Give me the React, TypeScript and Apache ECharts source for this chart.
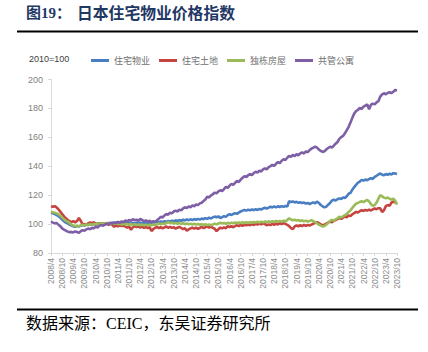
import React, { useEffect, useRef } from "react";
import * as echarts from "echarts";

// Monthly categories 2008/4 .. 2023/10
const months: string[] = [];
for (let y = 2008; y <= 2023; y++) {
  for (let m = 1; m <= 12; m++) {
    if (y === 2008 && m < 4) continue;
    if (y === 2023 && m > 10) continue;
    months.push(`${y}/${m}`);
  }
}

const seriesNames = ["住宅物业", "住宅土地", "独栋房屋", "共管公寓"];

const residential = [
  107.9, 107.4, 107.0, 106.2, 105.6, 104.4, 103.2, 102.0, 101.0,
  100.4, 99.6, 99.0, 98.4, 98.2, 98.7, 98.3, 98.9, 99.3, 99.0, 99.6, 99.3,
  99.8, 99.5, 100.1, 99.7, 100.3, 99.9, 100.4, 100.0, 100.6, 100.2, 100.8, 100.4,
  100.9, 100.5, 101.1, 100.7, 101.2, 100.8, 100.4, 100.9, 100.3, 100.8, 100.2, 100.7,
  100.3, 100.9, 100.4, 101.0, 100.5, 101.1, 100.6, 100.2, 100.8, 100.3, 100.9, 101.2,
  101.6, 101.1, 101.8, 101.3, 102.0, 101.5, 102.2, 101.7, 102.4, 101.9, 102.6, 102.1,
  102.8, 102.3, 103.0, 102.5, 103.2, 102.7, 103.3, 102.8, 103.5, 103.0, 103.6, 103.1,
  103.8, 103.4, 104.1, 103.6, 104.4, 103.9, 104.6, 105.2, 104.7, 105.4, 104.1, 104.8,
  105.5, 105.0, 106.2, 106.8, 106.3, 107.0, 107.6, 107.1, 108.0, 108.7, 109.3, 109.8,
  109.3, 110.0, 109.5, 110.2, 109.6, 110.3, 109.8, 110.5, 110.0, 110.8, 111.3, 110.7,
  111.4, 112.0, 111.5, 112.2, 111.6, 112.3, 111.8, 112.4, 111.9, 112.6, 112.1, 115.8,
  115.3, 115.7, 115.0, 115.4, 114.7, 115.1, 114.5, 114.9, 114.2, 114.6, 113.9, 114.5,
  115.0, 114.4, 115.5, 114.6, 113.2, 112.3, 111.6, 112.0, 113.4, 114.6, 116.2, 116.8,
  116.3, 117.2, 117.8, 117.3, 118.4, 118.0, 119.2, 121.0, 121.6, 123.8, 125.6, 127.2,
  128.6, 129.4, 130.5, 130.1, 130.8, 130.3, 131.2, 131.7, 131.2, 132.6, 133.4, 134.3,
  135.0, 134.2, 133.8, 134.6, 134.1, 134.9, 134.3, 135.2, 135.0, 134.6,
];

const land = [
  112.3, 112.0, 112.4, 111.6, 110.2, 108.6, 107.0, 105.4, 104.0,
  102.8, 101.9, 101.4, 102.0, 101.2, 102.1, 104.2, 102.3, 99.6, 100.1, 99.4, 100.5,
  101.2, 100.6, 101.3, 100.4, 99.8, 100.7, 99.9, 100.5, 99.6, 100.3, 99.5, 100.1,
  99.4, 98.2, 99.0, 98.5, 99.2, 98.6, 99.0, 98.2, 97.6, 98.4, 96.0, 97.8,
  98.6, 97.9, 98.4, 97.6, 98.2, 97.4, 98.0, 97.3, 97.9, 95.2, 96.6, 97.5,
  98.0, 97.2, 97.8, 97.1, 97.7, 98.3, 97.5, 98.1, 97.4, 97.9, 96.8, 97.5,
  98.1, 97.3, 96.5, 97.2, 95.4, 96.3, 97.0, 97.6, 96.9, 97.5, 96.7, 97.3,
  98.0, 97.2, 97.8, 98.4, 97.6, 98.2, 97.4, 96.8, 95.1, 96.4, 97.6, 97.0,
  97.7, 97.1, 98.6, 97.9, 98.5, 97.8, 98.7, 99.3, 98.6, 99.4, 98.8, 99.6,
  99.1, 99.8, 99.2, 100.0, 99.4, 100.2, 99.6, 100.4, 99.8, 100.6, 100.0, 99.2,
  99.8, 99.3, 100.1, 99.5, 100.3, 99.7, 100.6, 100.0, 100.7, 100.1, 99.5, 98.6,
  97.2, 96.5, 98.4, 99.1, 98.5, 99.2, 98.6, 99.4, 98.8, 99.5, 98.9, 99.6,
  100.2, 100.8, 101.4, 100.6, 99.8, 99.2, 99.6, 100.4, 101.0, 101.8, 101.2, 102.3,
  102.8, 103.4, 104.2, 103.6, 104.5, 105.3, 104.7, 106.0, 105.5, 106.8, 107.6, 108.4,
  108.0, 108.9, 109.6, 109.1, 109.8, 109.3, 110.0, 109.4, 110.2, 110.8, 110.3, 111.0,
  110.9, 108.4, 109.6, 112.4, 113.2, 112.6, 114.8, 115.6, 115.0, 114.5,
];

const detached = [
  108.6, 108.2, 107.9, 107.4, 106.8, 105.9, 104.6, 103.4, 102.3,
  101.7, 100.8, 99.6, 99.0, 98.6, 98.9, 98.4, 99.1, 99.6, 99.2, 99.8, 99.4,
  99.9, 99.5, 100.2, 99.7, 100.4, 99.9, 100.6, 100.1, 100.7, 100.2, 100.8, 100.3,
  100.7, 100.1, 100.6, 99.9, 100.4, 99.7, 100.2, 99.6, 100.1, 99.5, 100.0, 99.4,
  99.9, 99.3, 99.8, 99.2, 99.7, 99.1, 99.6, 99.0, 99.5, 99.1, 99.7, 99.3,
  99.8, 100.4, 99.9, 100.5, 100.0, 100.7, 101.3, 100.6, 101.0, 100.4, 100.8, 100.2,
  100.7, 100.1, 100.6, 99.9, 100.4, 99.8, 100.3, 99.7, 100.2, 99.6, 100.1, 99.5,
  100.0, 99.4, 99.9, 99.3, 99.8, 99.2, 99.7, 100.3, 99.8, 100.4, 100.9, 100.3,
  100.8, 100.2, 100.9, 100.4, 101.0, 100.5, 101.1, 100.6, 101.2, 100.7, 101.3, 100.8,
  101.3, 100.8, 101.4, 100.9, 101.5, 101.0, 101.6, 101.1, 101.7, 101.2, 101.8, 101.3,
  101.9, 101.4, 102.0, 101.5, 102.1, 101.6, 102.2, 101.7, 102.3, 101.8, 102.9, 104.0,
  103.2, 102.6, 103.0, 102.4, 102.8, 102.1, 102.6, 101.9, 102.4, 101.8, 102.2, 102.7,
  102.0, 101.3, 100.5, 99.6, 98.9, 98.3, 98.7, 99.6, 100.8, 102.2, 102.9, 102.4,
  103.3, 104.0, 105.1, 104.6, 105.4, 106.2, 107.0, 108.4, 109.5, 111.2, 112.8, 114.2,
  114.6, 115.3, 115.8, 115.2, 116.0, 116.7, 115.6, 113.8, 112.6, 113.2, 114.8, 117.6,
  120.0, 119.2, 118.3, 117.8, 118.4, 117.5, 116.9, 117.6, 116.2, 113.4,
];

const condo = [
  101.8, 101.0, 100.5, 100.8, 99.5, 98.6, 97.0, 96.2, 95.5,
  94.8, 94.3, 94.6, 94.2, 94.9, 94.5, 94.0, 95.1, 95.8, 95.4, 96.3, 96.9,
  96.5, 97.4, 97.0, 98.2, 97.6, 98.8, 99.3, 98.9, 99.6, 100.4, 99.8, 100.9,
  100.3, 101.2, 100.5, 101.6, 100.8, 101.9, 101.3, 102.5, 101.8, 102.9, 102.2, 103.4,
  102.6, 103.1, 102.2, 103.6, 102.8, 102.0, 102.6, 101.7, 102.3, 101.4, 102.0, 101.5,
  102.6, 103.8, 105.0, 104.6, 106.0, 107.0, 106.5, 107.9, 107.4, 108.7, 109.3, 108.7,
  110.0, 109.5, 110.8, 111.6, 111.1, 112.2, 111.6, 112.9, 112.3, 113.6, 113.1, 114.3,
  114.8, 115.9, 117.0, 119.0, 118.4, 119.8, 120.6, 121.8, 121.2, 122.6, 123.4, 122.8,
  124.2, 125.8, 125.1, 126.6, 127.8, 127.1, 128.6, 129.8, 129.1, 130.9, 132.0, 133.2,
  132.5, 133.8, 134.6, 133.9, 135.3, 136.2, 135.6, 137.0, 136.4, 137.8, 138.6, 137.9,
  139.4, 140.1, 141.0, 140.3, 141.8, 142.9, 142.2, 143.8, 144.9, 144.3, 145.9, 147.2,
  146.5, 147.8, 147.0, 148.3, 147.6, 148.9, 149.6, 148.8, 150.3, 149.7, 151.1, 152.2,
  152.8, 153.6, 152.9, 151.6, 150.6, 149.9, 150.3, 151.7, 152.6, 153.5, 153.0, 154.2,
  155.6, 156.8, 158.9, 160.2, 161.0, 162.8, 165.0, 167.3, 170.2, 173.6, 176.4, 178.2,
  179.0, 180.3, 179.6, 181.2, 182.0, 182.8, 179.4, 182.6, 183.3, 182.8, 184.2, 185.0,
  188.2, 189.7, 190.5, 189.8, 190.7, 191.2, 190.6, 191.5, 192.8, 192.3,
];

const colors = ["#4A7EC2", "#C5443F", "#9BBB59", "#7E5FA6"];

export default function App() {
  const ref = useRef<HTMLDivElement>(null);
  useEffect(() => {
    if (!ref.current) return;
    const chart = echarts.init(ref.current, undefined, { renderer: "svg" });
    const dataSets = [residential, land, detached, condo];
    chart.setOption({
      animation: false,
      backgroundColor: "#ffffff",
      color: colors,
      grid: { left: 51, right: 31, top: 79.5, bottom: 99, containLabel: false },
      legend: {
        data: seriesNames,
        left: 86,
        top: 51,
        icon: "rect",
        itemWidth: 18,
        itemHeight: 3,
        itemGap: 9,
        textStyle: { fontSize: 9, color: "#6F6F6F", fontFamily: "Noto Sans CJK SC" },
      },
      xAxis: {
        type: "category",
        data: months,
        boundaryGap: false,
        axisLine: { lineStyle: { color: "#D9D9D9", width: 1 } },
        axisTick: { interval: 5, length: 3, lineStyle: { color: "#D9D9D9" } },
        axisLabel: {
          interval: 5,
          rotate: 90,
          fontSize: 8.5,
          color: "#8C8C8C",
          margin: 5,
          fontFamily: "Liberation Sans, Arial, sans-serif",
        },
        splitLine: { show: false },
      },
      yAxis: {
        type: "value",
        min: 80,
        max: 200,
        interval: 20,
        axisLine: { show: true, lineStyle: { color: "#D9D9D9", width: 1 } },
        axisTick: { show: true, length: 3, lineStyle: { color: "#D9D9D9" } },
        axisLabel: {
          fontSize: 9,
          color: "#7F7F7F",
          margin: 8,
          fontFamily: "Liberation Sans, Arial, sans-serif",
        },
        splitLine: { show: false },
      },
      series: seriesNames.map((name, i) => ({
        name,
        type: "line",
        data: dataSets[i],
        showSymbol: false,
        symbol: "none",
        lineStyle: { width: 2.6, color: colors[i] },
        itemStyle: { color: colors[i] },
      })),
      graphic: [
        {
          type: "text",
          left: 26,
          top: 5,
          style: {
            text: "图19：",
            fontSize: 15,
            fontWeight: "bold",
            fill: "#1F3864",
            fontFamily: "Liberation Serif, Noto Sans CJK SC",
          },
        },
        {
          type: "text",
          left: 77,
          top: 5,
          style: {
            text: "日本住宅物业价格指数",
            fontSize: 15.8,
            fontWeight: "bold",
            fill: "#1F3864",
            fontFamily: "Noto Sans CJK SC",
          },
        },
        {
          type: "rect",
          shape: { x: 17, y: 30.5, width: 401, height: 2 },
          style: { fill: "#000000" },
        },
        {
          type: "text",
          left: 29,
          top: 54,
          style: {
            text: "2010=100",
            fontSize: 9,
            fill: "#404040",
            fontFamily: "Liberation Sans, Arial, sans-serif",
          },
        },
        {
          type: "rect",
          shape: { x: 17, y: 308.5, width: 401, height: 2 },
          style: { fill: "#000000" },
        },
        {
          type: "text",
          left: 26,
          top: 315,
          style: {
            text: "数据来源：CEIC，东吴证券研究所",
            fontSize: 16,
            fill: "#000000",
            fontFamily: "Liberation Serif, Noto Sans CJK SC",
          },
        },
      ],
    });
    return () => chart.dispose();
  }, []);
  return (
    <div style={{ position: "absolute", left: 0, top: 0 }}>
      <div ref={ref} style={{ width: 428, height: 352 }} />
    </div>
  );
}
